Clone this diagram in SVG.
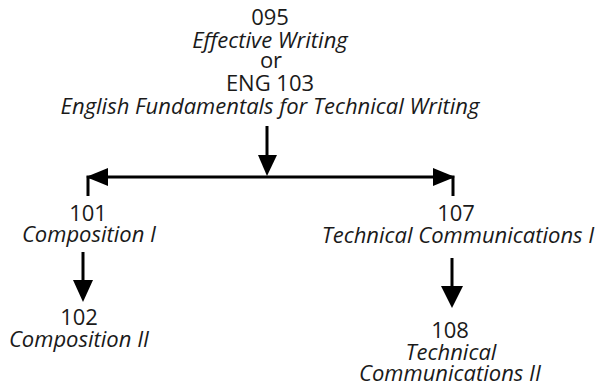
<svg xmlns="http://www.w3.org/2000/svg" width="596" height="387" viewBox="0 0 596 387">
<style>
text{font-family:"Open Sans","Liberation Sans",sans-serif;font-size:22px;fill:#1a1a1a;text-anchor:middle}
.i{font-style:italic}
.c{stroke:#000;stroke-width:3;fill:none}
.h{fill:#000;stroke:none}
</style>
<rect width="596" height="387" fill="#fff"/>
<g id="n095">
<text x="270" y="25">095</text>
<text x="270" y="48" class="i">Effective Writing</text>
<text x="271" y="68">or</text>
<text x="270" y="91">ENG 103</text>
<text x="270" y="114" class="i">English Fundamentals for Technical Writing</text>
</g>
<g id="n101">
<text x="88" y="221">101</text>
<text x="89" y="242" class="i">Composition I</text>
</g>
<g id="n102">
<text x="79" y="325">102</text>
<text x="79" y="347" class="i">Composition II</text>
</g>
<g id="n107">
<text x="456" y="221">107</text>
<text x="458" y="243" class="i">Technical Communications I</text>
</g>
<g id="n108">
<text x="450" y="338">108</text>
<text x="451" y="360" class="i">Technical</text>
<text x="450" y="381" class="i">Communications II</text>
</g>
<g id="connectors">
<line class="c" x1="267" y1="126" x2="267" y2="158"/>
<polygon class="h" points="258,155 277,155 267,176"/>
<polyline class="c" points="88,196 88,177 453,177 453,196"/>
<polygon class="h" points="86,177 108,168 108,186"/>
<polygon class="h" points="455,177 433,168 433,186"/>
<line class="c" x1="83" y1="252" x2="83" y2="283"/>
<polygon class="h" points="73,280 93,280 83,302"/>
<line class="c" x1="452" y1="258" x2="452" y2="289"/>
<polygon class="h" points="441,286 463,286 452,308"/>
</g>
</svg>
